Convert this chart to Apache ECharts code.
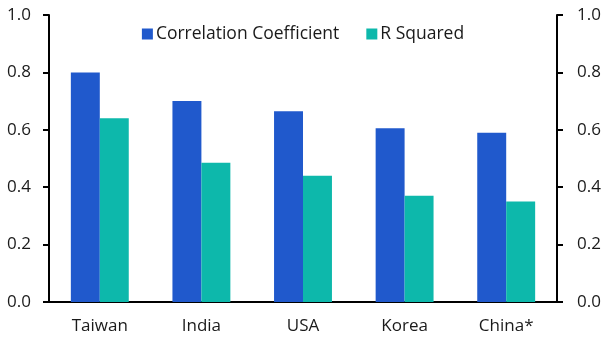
<!DOCTYPE html>
<html>
<head>
<meta charset="utf-8">
<script src="https://cdn.jsdelivr.net/npm/echarts@6/dist/echarts.min.js"></script>
<style>
  html, body { margin: 0; padding: 0; background: #fff; }
  #chart { width: 606px; height: 352px; }
</style>
</head>
<body>
<div id="chart"></div>
<script>
// data
var countries = ['Taiwan', 'India', 'USA', 'Korea', 'China*'];
var corrCoef = [0.80, 0.70, 0.665, 0.605, 0.59];
var rSquared = [0.64, 0.485, 0.44, 0.37, 0.35];
var seriesNames = ['Correlation Coefficient', 'R Squared'];

var fontName = 'Open Sans';

var myChart = echarts.init(document.getElementById('chart'));

// both y axes share the same scale
function valueAxis (pos) {
	return {
		type: 'value',
		position: pos,
		min: 0,
		max: 1,
		interval: 0.2,
		axisLine: { show: true, lineStyle: { color: '#000', width: 2 } },
		axisTick: { show: true, length: 6, lineStyle: { color: '#000', width: 2 } },
		splitLine: { show: false },
		axisLabel: {
			color: '#1a1a1a',
			fontSize: 17,
			fontFamily: fontName,
			margin: pos == 'left' ? 18 : 20,
			formatter: function (v) { return v.toFixed(1); }
		}
	};
}

var option = {
	animation: false,
	grid: { left: 49, right: 49, top: 15, bottom: 50, containLabel: false },
	legend: {
		data: seriesNames,
		top: 20,
		left: 'center',
		itemWidth: 11,
		itemHeight: 11,
		itemGap: 27,
		icon: 'rect',
		textStyle: { color: '#1a1a1a', fontSize: 17.5, fontFamily: fontName, padding: [0, 0, 0, -2] }
	},
	xAxis: {
		type: 'category',
		data: countries,
		axisLine: { lineStyle: { color: '#000', width: 2 } },
		axisTick: { show: false },
		axisLabel: { color: '#1a1a1a', fontSize: 17, fontFamily: fontName, margin: 16 }
	},
	yAxis: [valueAxis('left'), valueAxis('right')],
	series: [
		{
			name: seriesNames[0],
			type: 'bar',
			data: corrCoef,
			barGap: '0%',
			barCategoryGap: '43%',
			itemStyle: { color: '#2059CC' }
		},
		{
			name: seriesNames[1],
			type: 'bar',
			data: rSquared,
			itemStyle: { color: '#0DB8AB' }
		}
	]
};
myChart.setOption(option);
</script>
</body>
</html>
